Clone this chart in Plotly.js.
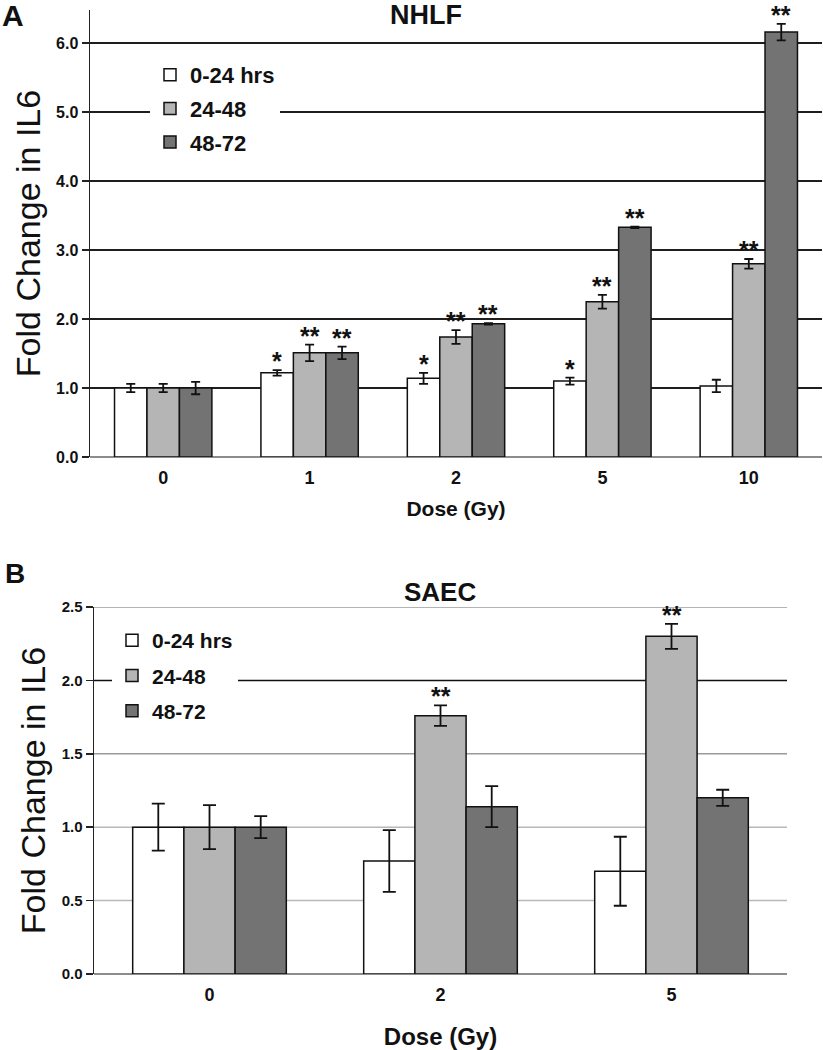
<!DOCTYPE html>
<html><head><meta charset="utf-8">
<script src="https://cdn.plot.ly/plotly-3.0.1.min.js"></script>
<style>html,body{margin:0;padding:0;background:#fff}#chart{width:823px;height:1050px}</style>
</head><body><div id="chart"></div>
<script>
// ---------- data ----------
const seriesNames = ['0-24 hrs', '24-48', '48-72'];

const doseA = ['0', '1', '2', '5', '10'];
const nhlf_0_24      = [1.00, 1.22, 1.14, 1.10, 1.03];
const nhlf_0_24_err  = [0.06, 0.04, 0.08, 0.05, 0.09];
const nhlf_24_48     = [1.00, 1.51, 1.74, 2.25, 2.80];
const nhlf_24_48_err = [0.06, 0.12, 0.10, 0.10, 0.07];
const nhlf_48_72     = [1.00, 1.51, 1.93, 3.33, 6.16];
const nhlf_48_72_err = [0.09, 0.09, 0.01, 0.01, 0.12];
const nhlf_sig_0_24  = ['', '*', '*', '*', ''];
const nhlf_sig_24_48 = ['', '**', '**', '**', '**'];
const nhlf_sig_48_72 = ['', '**', '**', '**', '**'];

const doseB = ['0', '2', '5'];
const saec_0_24      = [1.00, 0.77, 0.70];
const saec_0_24_err  = [0.16, 0.21, 0.235];
const saec_24_48     = [1.00, 1.76, 2.30];
const saec_24_48_err = [0.15, 0.07, 0.085];
const saec_48_72     = [1.00, 1.14, 1.20];
const saec_48_72_err = [0.075, 0.14, 0.055];
const saec_sig_0_24  = ['', '', ''];
const saec_sig_24_48 = ['', '**', '**'];
const saec_sig_48_72 = ['', '', ''];

// y-axis gridline levels of panel B (dark one at 2.0)
const saecGridLevels = [0.5, 1.0, 1.5, 2.0, 2.5];

// ---------- style ----------
const W = 823, H = 1050;
const FONT = 'Liberation Sans, Arial, Helvetica, sans-serif';
const fillColors = ['#ffffff', '#b5b5b5', '#737373'];
const BARGAP = 0.335;
const fx = p => p / W;
const fy = p => 1 - p / H;

const panels = [
  {x: doseA, ax: 'x', ay: 'y', legend: 'legend', cap: 4.5,
   vals: [nhlf_0_24, nhlf_24_48, nhlf_48_72],
   errs: [nhlf_0_24_err, nhlf_24_48_err, nhlf_48_72_err],
   sigs: [nhlf_sig_0_24, nhlf_sig_24_48, nhlf_sig_48_72]},
  {x: doseB, ax: 'x2', ay: 'y2', legend: 'legend2', cap: 6.5,
   vals: [saec_0_24, saec_24_48, saec_48_72],
   errs: [saec_0_24_err, saec_24_48_err, saec_48_72_err],
   sigs: [saec_sig_0_24, saec_sig_24_48, saec_sig_48_72]}
];

const traces = [];
const annotations = [];
const w = (1 - BARGAP) / 3;
panels.forEach((p, pi) => {
  p.vals.forEach((v, k) => {
    traces.push({
      type: 'bar', name: seriesNames[k], x: p.x, y: v,
      xaxis: p.ax, yaxis: p.ay, legend: p.legend, legendgroup: 'g' + pi + k,
      marker: {color: fillColors[k], line: {color: '#111', width: 1.5}},
      error_y: {type: 'data', array: p.errs[k], visible: true, color: '#111', thickness: 1.8, width: p.cap},
      hoverinfo: 'x+y'
    });
    p.sigs[k].forEach((s, i) => {
      if (!s) return;
      annotations.push({
        xref: p.ax, yref: p.ay, x: i + (k - 1) * w, y: v[i] + p.errs[k][i],
        text: s, showarrow: false, xanchor: 'center', yanchor: 'bottom', yshift: -7,
        font: {family: FONT, size: 25, color: '#111', weight: 700}
      });
    });
  });
});

// titles & panel letters
annotations.push(
  {xref: 'paper', yref: 'paper', x: fx(426), y: fy(-2), text: 'NHLF', showarrow: false,
   xanchor: 'center', yanchor: 'top', font: {family: FONT, size: 27, color: '#111', weight: 700}},
  {xref: 'paper', yref: 'paper', x: fx(0), y: fy(-3), text: 'A', showarrow: false,
   xanchor: 'left', yanchor: 'top', font: {family: FONT, size: 30, color: '#111', weight: 700}},
  {xref: 'paper', yref: 'paper', x: fx(440), y: fy(592), text: 'SAEC', showarrow: false,
   xanchor: 'center', yanchor: 'middle', font: {family: FONT, size: 26, color: '#111', weight: 700}},
  {xref: 'paper', yref: 'paper', x: fx(3), y: fy(573), text: 'B', showarrow: false,
   xanchor: 'left', yanchor: 'middle', font: {family: FONT, size: 28, color: '#111', weight: 700}}
);

// panel B gridlines as shapes (so the 2.0 line can be dark)
const shapes = saecGridLevels.map(g => ({
  type: 'line', xref: 'x2 domain', yref: 'y2', x0: 0, x1: 1, y0: g, y1: g,
  line: {color: g === 2 ? '#111' : (g === 1.5 || g === 2.5 ? '#9a9a9a' : '#b8b8b8'), width: 1.5},
  layer: 'below'
}));

function xAxis(domain, anchor, tickSize, titleSize, standoff) {
  return {
    domain: domain, anchor: anchor, type: 'category',
    showline: false, ticks: '', showgrid: false, zeroline: false,
    ticklabelstandoff: 8,
    tickfont: {family: FONT, size: tickSize, color: '#111', weight: 700},
    title: {text: 'Dose (Gy)', standoff: standoff, font: {family: FONT, size: titleSize, color: '#111', weight: 700}},
    automargin: false, fixedrange: true
  };
}
function yAxis(domain, anchor, range, dtick, showgrid, tickSize) {
  return {
    domain: domain, anchor: anchor, range: range, dtick: dtick, tickformat: '.1f',
    showline: true, linecolor: '#222', linewidth: 1.5,
    ticks: 'outside', ticklen: 7, tickwidth: 1.5, tickcolor: '#222',
    showgrid: showgrid, gridcolor: '#1e1e1e', gridwidth: 1.5,
    zeroline: true, zerolinecolor: '#8c8c8c', zerolinewidth: 2.5,
    tickfont: {family: FONT, size: tickSize, color: '#111', weight: 700},
    title: {text: 'Fold Change in IL6', standoff: 5, font: {family: FONT, size: 34, color: '#111'}},
    automargin: false, fixedrange: true
  };
}

const layout = {
  width: W, height: H,
  margin: {l: 0, r: 0, t: 0, b: 0, pad: 0},
  paper_bgcolor: '#fff', plot_bgcolor: 'rgba(0,0,0,0)',
  font: {family: FONT, color: '#111'},
  barmode: 'group', bargap: BARGAP, bargroupgap: 0,
  showlegend: true,
  xaxis: xAxis([fx(90), fx(822)], 'y', 18, 21, 14),
  yaxis: yAxis([fy(457), fy(10)], 'x', [0, 6.48], 1, true, 16),
  xaxis2: xAxis([fx(94), fx(787)], 'y2', 18, 24, 25),
  yaxis2: yAxis([fy(974), fy(607)], 'x2', [0, 2.5], 0.5, false, 15),
  legend: {x: fx(150), y: fy(54), xanchor: 'left', yanchor: 'top', bgcolor: '#fff',
           borderwidth: 0, traceorder: 'grouped', tracegroupgap: 2,
           font: {family: FONT, size: 22, color: '#111', weight: 700}},
  legend2: {x: fx(112), y: fy(620), xanchor: 'left', yanchor: 'top', bgcolor: '#fff',
            borderwidth: 0, traceorder: 'grouped', tracegroupgap: 5,
            font: {family: FONT, size: 21, color: '#111', weight: 700}},
  shapes: shapes,
  annotations: annotations
};

Plotly.newPlot('chart', traces, layout, {displayModeBar: false, staticPlot: true});
</script>
</body></html>
